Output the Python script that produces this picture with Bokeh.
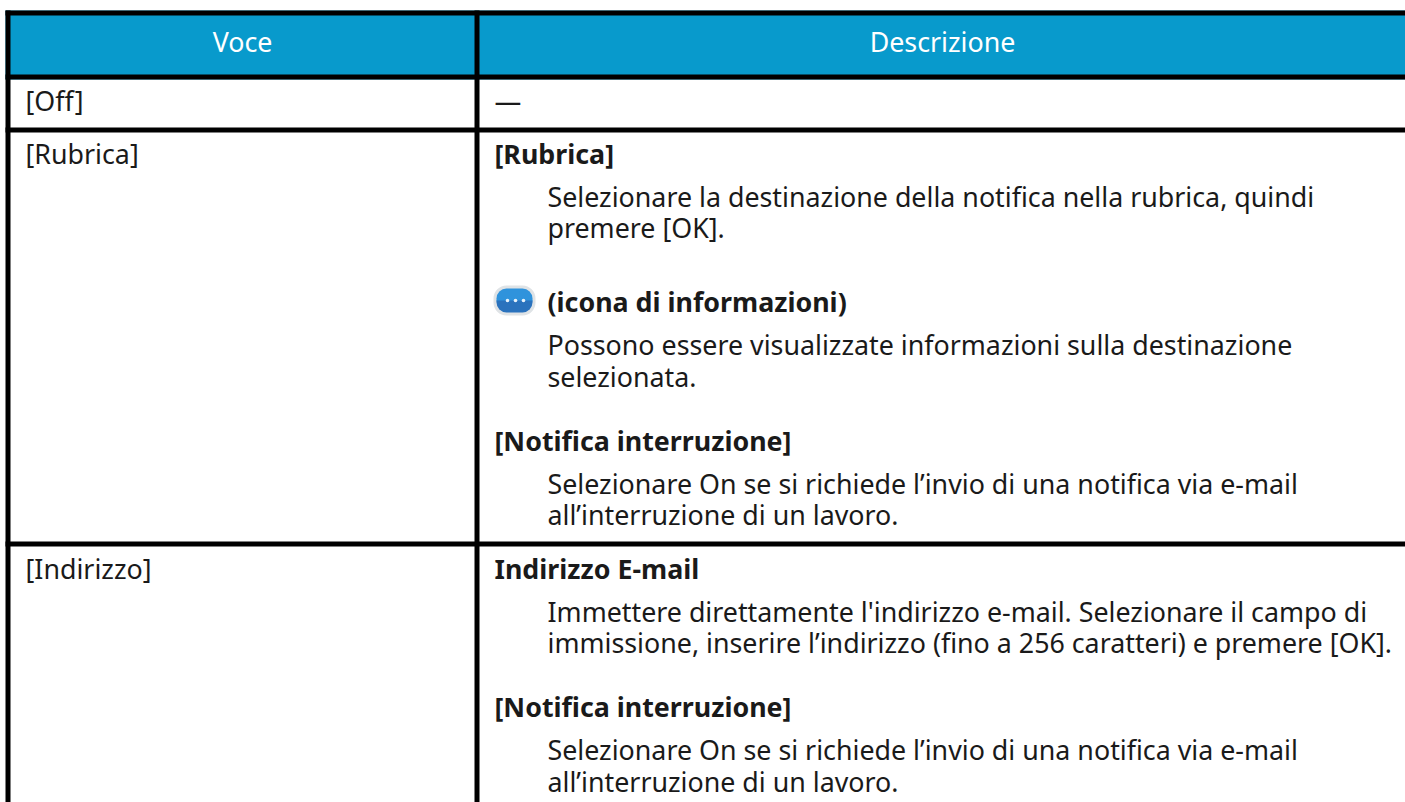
from bokeh.plotting import figure
from bokeh.models import Range1d
from bokeh.core.properties import value
from bokeh.embed import file_html
from bokeh.resources import INLINE

W, H = 1405, 802
FONT = "Noto Sans"
SIZE = "26.8px"
OFFSET = 10

header_labels = ["Voce", "Descrizione"]
left_labels = ["[Off]", "[Rubrica]", "[Indirizzo]"]
right_lines = [
    ("—", "plain", 110),
    ("[Rubrica]", "bold", 163),
    ("Selezionare la destinazione della notifica nella rubrica, quindi", "indent", 206),
    ("premere [OK].", "indent", 237),
    ("(icona di informazioni)", "iconbold", 311),
    ("Possono essere visualizzate informazioni sulla destinazione", "indent", 354),
    ("selezionata.", "indent", 386),
    ("[Notifica interruzione]", "bold", 450),
    ("Selezionare On se si richiede l’invio di una notifica via e-mail", "indent", 493),
    ("all’interruzione di un lavoro.", "indent", 524),
    ("Indirizzo E-mail", "bold", 578),
    ("Immettere direttamente l'indirizzo e-mail. Selezionare il campo di", "indent", 621),
    ("immissione, inserire l’indirizzo (fino a 256 caratteri) e premere [OK].", "indent", 652),
    ("[Notifica interruzione]", "bold", 716),
    ("Selezionare On se si richiede l’invio di una notifica via e-mail", "indent", 759),
    ("all’interruzione di un lavoro.", "indent", 791),
]
left_baselines = [110, 163, 578]

p = figure(width=W, height=H, x_range=Range1d(0, W), y_range=Range1d(H, 0),
           toolbar_location=None, output_backend="svg", min_border=0,
           x_axis_location=None, y_axis_location=None, outline_line_color=None)
p.grid.visible = False
p.styles = {"position": "absolute", "left": "0px", "top": "0px"}

# header band
p.quad(left=[5], right=[W], top=[10], bottom=[79], fill_color="#089acc", line_color=None)
# rules
for y0, y1 in [(10, 15), (74, 79), (127, 132), (541, 546)]:
    p.quad(left=[5], right=[W], top=[y0], bottom=[y1], fill_color="#000000", line_color=None)
for x0, x1 in [(5, 10), (474, 479)]:
    p.quad(left=[x0], right=[x1], top=[10], bottom=[H], fill_color="#000000", line_color=None)

common = dict(text_font=value(FONT), text_font_size=value(SIZE), text_baseline="alphabetic")
p.text(x=[242, 942], y=[51 - OFFSET] * 2, text=header_labels, text_color="#ffffff", text_align="center", **common)
p.text(x=[25] * 3, y=[b - OFFSET for b in left_baselines], text=left_labels, text_color="#1a1a1a", **common)

xs = {"plain": 494, "bold": 494, "indent": 547, "iconbold": 547}
for kind in xs:
    rows = [r for r in right_lines if r[1] == kind]
    p.text(x=[xs[kind]] * len(rows), y=[r[2] - OFFSET for r in rows], text=[r[0] for r in rows],
           text_color="#1a1a1a", text_font_style="bold" if "bold" in kind else "normal", **common)

# info icon
p.quad(left=[493], right=[535], top=[285], bottom=[315], fill_color="#dfe3e6", line_color=None, border_radius=13)
p.quad(left=[496], right=[532], top=[288], bottom=[301], fill_color="#2f93dc", line_color=None, border_radius=[10, 10, 0, 0])
p.quad(left=[496], right=[532], top=[300], bottom=[312], fill_color="#2a72bd", line_color=None, border_radius=[0, 0, 10, 10])
p.circle(x=[507, 515, 523], y=[300, 300, 300], radius=1.8, fill_color="#e8f2fb", line_color=None)

open("out.html", "w").write(file_html(p, INLINE))
